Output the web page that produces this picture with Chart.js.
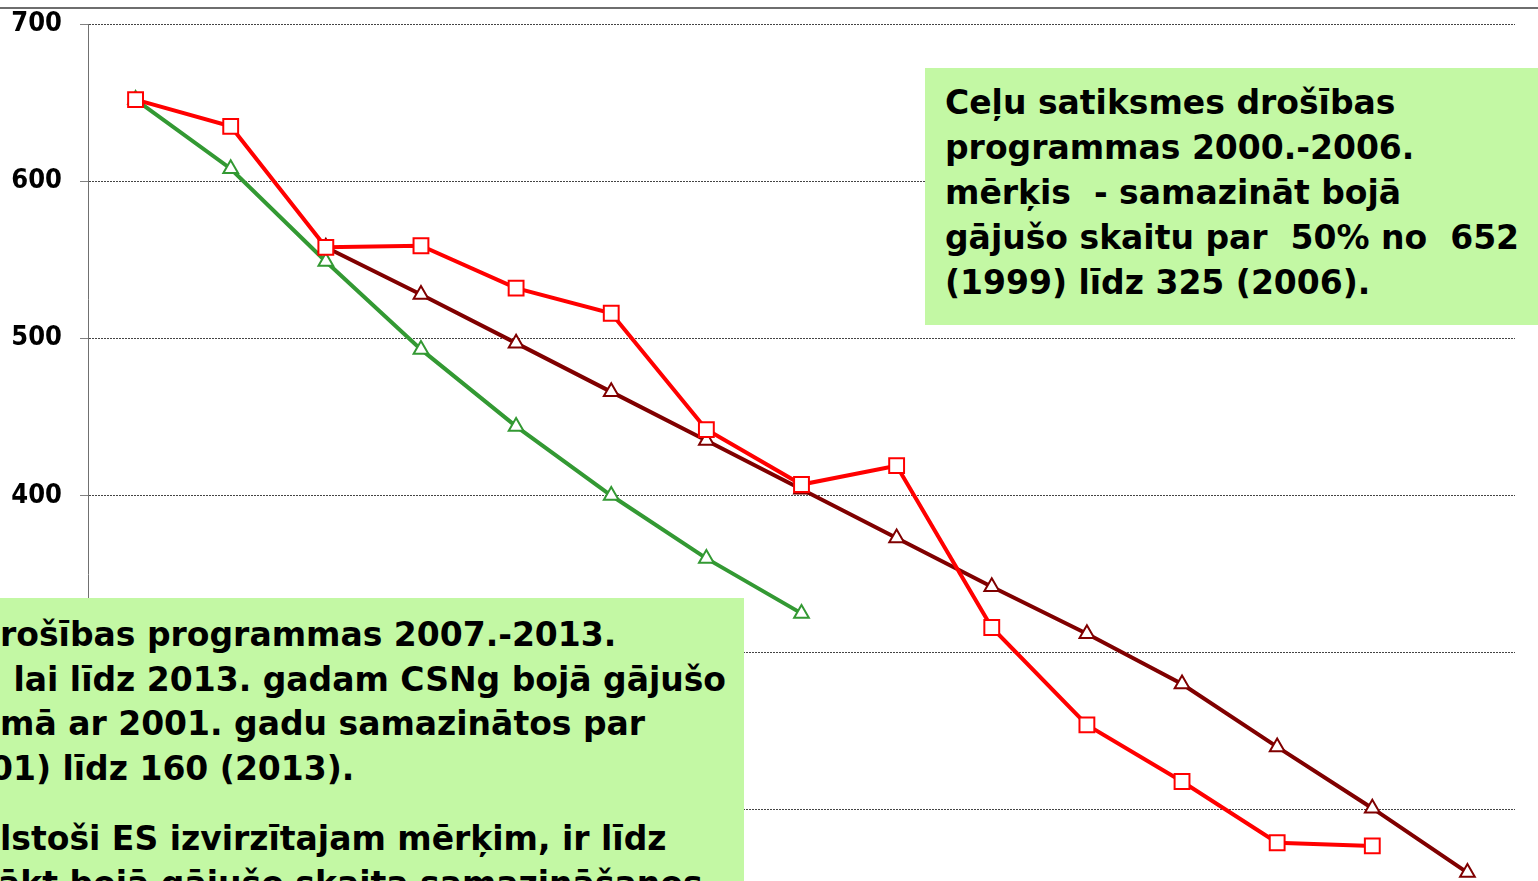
<!DOCTYPE html>
<html>
<head>
<meta charset="utf-8">
<script src="https://cdn.jsdelivr.net/npm/chart.js@4"></script>
<style>
  html, body { margin: 0; padding: 0; background: #fff; overflow: hidden; }
  #wrap { position: relative; width: 1538px; height: 881px; overflow: hidden; }
  #chart { position: absolute; left: 0; top: -10px; }
  .topline { position: absolute; left: 0; top: 7px; width: 1538px; height: 2px; background: #6e6e6e; }
  .box { position: absolute; background: #c3f8a4; overflow: hidden; }
  .box div { position: absolute; white-space: pre; color: #000;
    font-family: "DejaVu Sans", sans-serif;
    font-weight: bold; font-size: 33px; line-height: 45px; }
</style>
</head>
<body>
<div id="wrap">
  <canvas id="chart" width="1538" height="1180"></canvas>
  <div class="topline"></div>
  <div class="box" id="box1" style="left:925px;top:68px;width:613px;height:257px;">
    <div style="left:20px;top:12px;">Ceļu satiksmes drošības
programmas 2000.-2006.
mērķis  - samazināt bojā
gājušo skaitu par  50% no  652
(1999) līdz 325 (2006).</div>
  </div>
  <div class="box" id="box2" style="left:0;top:598px;width:744px;height:300px;">
    <div style="left:0;top:14px;">rošības programmas 2007.-2013.</div>
    <div style="left:2px;top:59px;"> lai līdz 2013. gadam CSNg bojā gājušo</div>
    <div style="left:0;top:103px;">mā ar 2001. gadu samazinātos par</div>
    <div style="left:-10px;top:148px;">01) līdz 160 (2013).</div>
    <div style="left:0;top:218px;">lstoši ES izvirzītajam mērķim, ir līdz</div>
    <div style="left:-2px;top:263px;">ākt bojā gājušo skaita samazināšanos</div>
  </div>
</div>
<script>
// data
const years = ["1999", "2000", "2001", "2002", "2003", "2004", "2005", "2006",
  "2007", "2008", "2009", "2010", "2011", "2012", "2013"];
// actual number of killed
const actual = [652, 635, 558, 559, 532, 516, 442, 407, 419, 316, 254, 218, 179, 177, null];
// target of programme 2000-2006
const target2006 = [652, 608, 549, 493, 444, 400, 360, 325, null, null, null, null, null, null, null];
// target of programme 2007-2013
const target2013 = [null, null, 558, 528, 497, 466, 435, 404, 373, 342, 312, 280, 240, 201, 160];
const yTicks = [0, 100, 200, 300, 400, 500, 600, 700];

const ctx = document.getElementById("chart").getContext("2d");
const chart = new Chart(ctx, {
  type: "line",
  data: {
    labels: years,
    datasets: [
      {
        label: "Faktiski",
        data: actual,
        borderColor: "#ff0000",
        borderWidth: 4,
        pointStyle: "rect",
        pointRadius: 10.5,
        pointBorderWidth: 2,
        pointBackgroundColor: "#ffffff",
        pointBorderColor: "#ff0000",
        tension: 0,
        order: 0,
      },
      {
        label: "Mērķis 2013",
        data: target2013,
        borderColor: "#800000",
        borderWidth: 4,
        pointStyle: "triangle",
        pointRadius: 8.5,
        pointBorderWidth: 2,
        pointBackgroundColor: "#ffffff",
        pointBorderColor: "#800000",
        tension: 0,
        order: 1,
      },
      {
        label: "Mērķis 2006",
        data: target2006,
        borderColor: "#339933",
        borderWidth: 4,
        pointStyle: "triangle",
        pointRadius: 8.5,
        pointBorderWidth: 2,
        pointBackgroundColor: "#ffffff",
        pointBorderColor: "#339933",
        tension: 0,
        order: 2,
      },
    ],
  },
  options: {
    responsive: false,
    animation: false,
    devicePixelRatio: 1,
    layout: { padding: { top: 5, right: 23, left: 0, bottom: 0 } },
    plugins: { legend: { display: false }, tooltip: { enabled: false } },
    scales: {
      x: {
        offset: true,
        grid: { display: false },
        border: { color: "#808080" },
        ticks: { color: "#000", font: { family: "DejaVu Sans", weight: "bold", size: 20 } },
        afterFit: (scale) => { scale.height = 46; },
      },
      y: {
        min: 0,
        max: 700,
        afterBuildTicks: (scale) => { scale.ticks = yTicks.map((v) => ({ value: v })); },
        grid: {
          color: "#444",
          lineWidth: 1,
          tickLength: 8,
          tickColor: "#808080",
          tickBorderDash: [],
        },
        border: { color: "#707070", width: 1, dash: [2, 1] },
        ticks: {
          padding: 18,
          color: "#000",
          font: { family: "DejaVu Sans Condensed", weight: "bold", size: 27 },
        },
        afterFit: (scale) => { scale.width = 88; },
      },
    },
  },
});
</script>
</body>
</html>
